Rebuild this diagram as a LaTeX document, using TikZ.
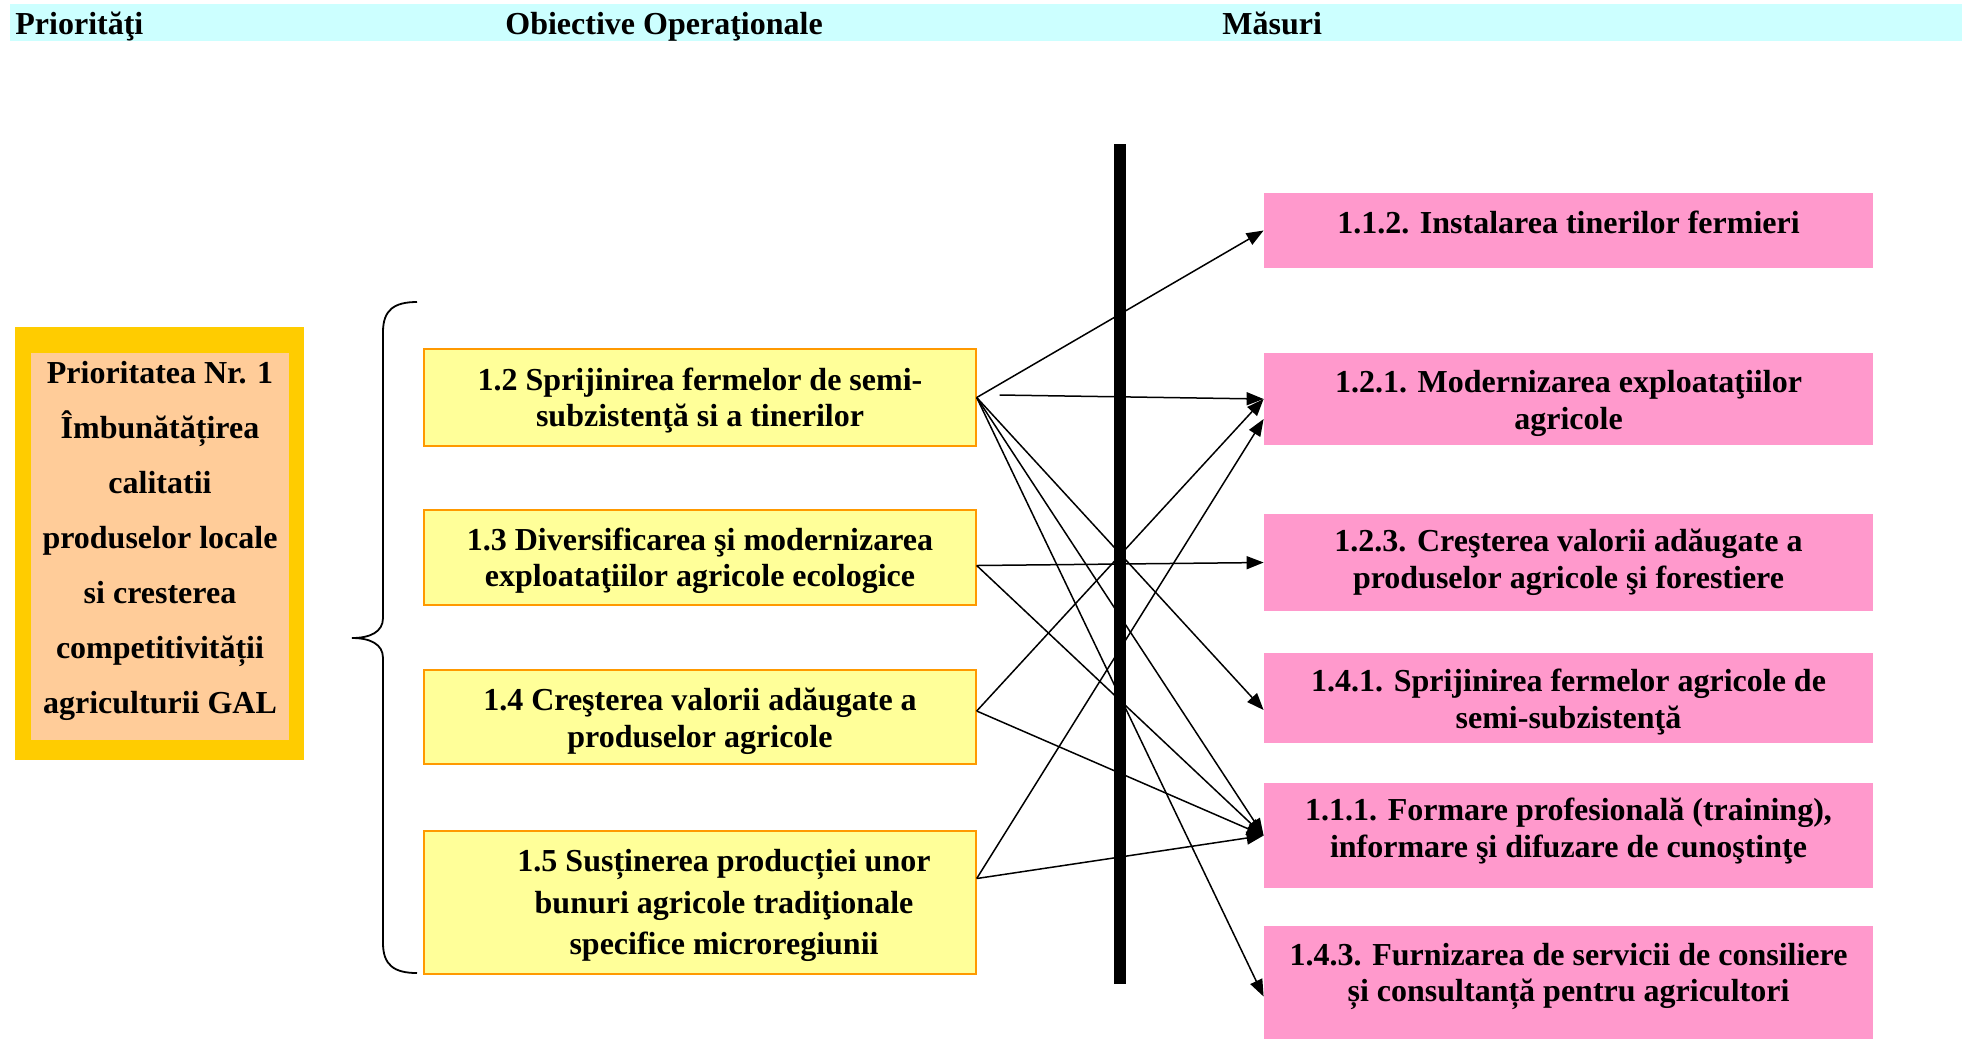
\documentclass[tikz,border=0pt]{standalone}
\usepackage{fontspec}
\setmainfont{Liberation Serif}
\usetikzlibrary{arrows.meta}

\definecolor{hdrcyan}{HTML}{CCFFFF}
\definecolor{prgold}{HTML}{FFCC00}
\definecolor{prpeach}{HTML}{FFCC99}
\definecolor{objyellow}{HTML}{FFFF99}
\definecolor{objorange}{HTML}{FF9900}
\definecolor{mpink}{HTML}{FF99CC}

% invisible struts to nudge text up / down inside a box
\newcommand{\padbelow}[1]{\rule[-#1]{0pt}{#1}}
\newcommand{\padabove}[1]{\rule{0pt}{#1}}

\tikzset{
  txt/.style={font=\fontsize{16}{18.3}\selectfont\bfseries, align=center, inner sep=0pt},
  obox/.style={txt, fill=objyellow, draw=objorange, line width=0.7pt, minimum width=276pt},
  mbox/.style={txt, fill=mpink, minimum width=304.5pt},
  arr/.style={-{Triangle[length=8.5pt,width=6.5pt]}, line width=0.75pt},
}

\begin{document}
\begin{tikzpicture}[x=0.5pt, y=-0.5pt]
 \useasboundingbox (0,0) rectangle (1968,1041);

 % header
 \fill[hdrcyan] (10,4) rectangle (1962,41);
 \node[txt, anchor=base west, name=hprio] at (15,34)   {Priorităţi};
 \node[txt, anchor=base west, name=hobj]  at (505,34)  {Obiective Operaţionale};
 \node[txt, anchor=base west, name=hmas]  at (1222,34) {Măsuri};

 % prioritate
 \node[fill=prgold, minimum width=144.5pt, minimum height=216.5pt, name=prout] at (159.5,543.5) {};
 \node[txt, fill=prpeach, minimum width=129pt, minimum height=193.5pt,
       font=\fontsize{16}{27.5}\selectfont\bfseries, name=prio] at (160,546.5)
      {Prioritatea Nr. 1\\Îmbunătățirea\\calitatii\\produselor locale\\si cresterea\\competitivității\\agriculturii GAL\padbelow{9pt}};

 \draw[line width=0.9pt] (417,302) .. controls (394,302) and (383,310) .. (383,332)
   -- (383,618) .. controls (383,632) and (370,638) .. (352,638)
   .. controls (370,638) and (383,644) .. (383,658)
   -- (383,943) .. controls (383,965) and (394,973) .. (417,973);

 % obiective
 \node[obox, minimum height=48.5pt, name=o12] at (700,397.5) {\padabove{14.4pt}1.2 Sprijinirea fermelor de semi-\\subzistenţă si a tinerilor};
 \node[obox, minimum height=47.5pt, name=o13] at (700,557.5) {\padabove{14.4pt}1.3 Diversificarea şi modernizarea\\exploataţiilor agricole ecologice};
 \node[obox, minimum height=47pt,   name=o14] at (700,717)   {\padabove{15.4pt}1.4 Creşterea valorii adăugate a\\produselor agricole};
 \node[obox, minimum height=71.5pt, name=o15] at (700,902.5) {};
 \node[txt, font=\fontsize{16}{20.7}\selectfont\bfseries, name=o15txt] at (724,902.5)
      {\padabove{14.4pt}1.5 Susținerea producției unor\\bunuri agricole tradiţionale\\specifice microregiunii};

 % bara
 \fill (1114,144) rectangle (1126,984);

 % masuri
 \node[mbox, minimum height=37.5pt, name=m112] at (1568.5,230.5) {1.1.2. Instalarea tinerilor fermieri\padbelow{8.5pt}};
 \node[mbox, minimum height=46pt,   name=m121] at (1568.5,399)   {\padabove{15.4pt}1.2.1. Modernizarea exploataţiilor\\agricole};
 \node[mbox, minimum height=48.5pt, name=m123] at (1568.5,562.5) {1.2.3. Creşterea valorii adăugate a\\produselor agricole şi forestiere};
 \node[mbox, minimum height=45pt,   name=m141] at (1568.5,698)   {\padabove{15.4pt}1.4.1. Sprijinirea fermelor agricole de\\semi-subzistenţă};
 \node[mbox, minimum height=52.5pt, name=m111] at (1568.5,835.5) {1.1.1. Formare profesională (training),\\informare şi difuzare de cunoştinţe\padbelow{7.5pt}};
 \node[mbox, minimum height=56.5pt, name=m143] at (1568.5,982.5) {1.4.3. Furnizarea de servicii de consiliere\\și consultanță pentru agricultori\padbelow{10pt}};

 \coordinate (gap12) at ([xshift=11.5pt,yshift=1.25pt]o12.east);

 \draw[arr] (o12.east) -- (m112.west);
 \draw[arr] (gap12)    -- (m121.west);
 \draw[arr] (o12.east) -- ([yshift=-6pt]m141.west);
 \draw[arr] (o12.east) -- (m111.west);
 \draw[arr] (o12.east) -- ([yshift=-7pt]m143.west);

 \draw[arr] ([yshift=-4pt]o13.east) -- (m123.west);
 \draw[arr] ([yshift=-4pt]o13.east) -- (m111.west);

 \draw[arr] ([yshift=3pt]o14.east) -- (m121.west);
 \draw[arr] ([yshift=3pt]o14.east) -- (m111.west);

 \draw[arr] ([yshift=12pt]o15.east) -- ([yshift=-10pt]m121.west);
 \draw[arr] ([yshift=12pt]o15.east) -- (m111.west);
\end{tikzpicture}
\end{document}
